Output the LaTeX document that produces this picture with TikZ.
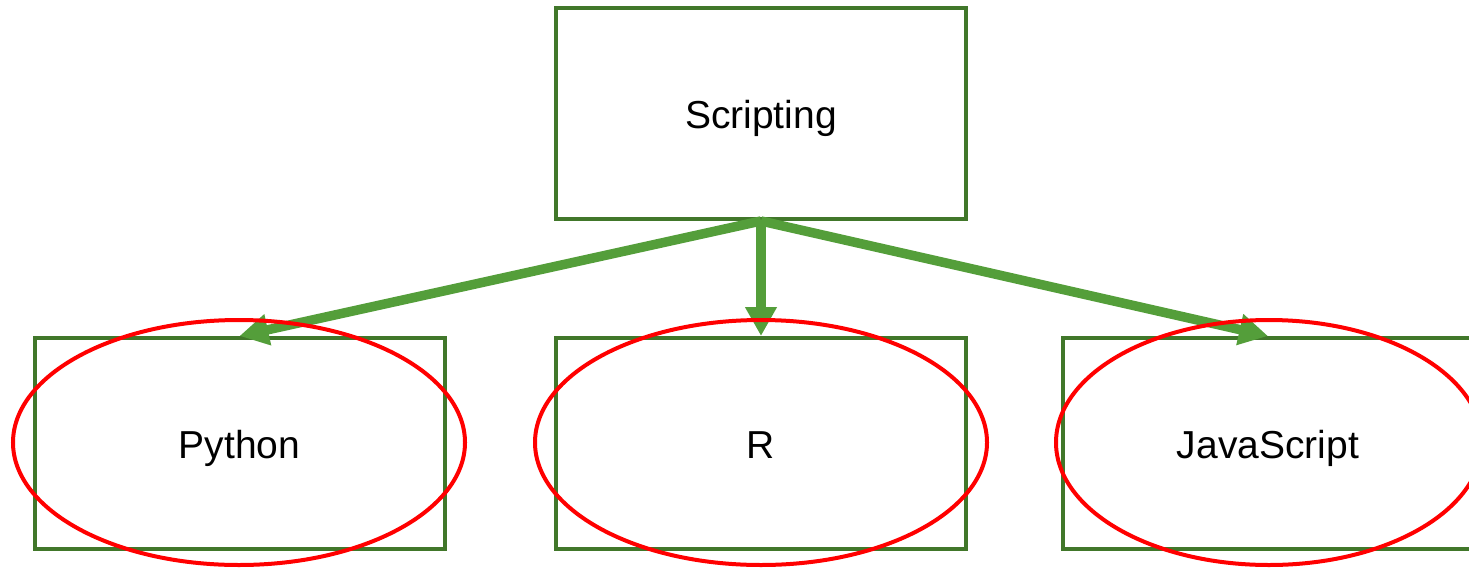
\documentclass[tikz,border=0pt]{standalone}
\usepackage{fontspec}
\setmainfont{Liberation Sans}
\usetikzlibrary{arrows.meta,shapes.geometric}
\definecolor{boxgreen}{RGB}{65,119,42}
\definecolor{arrowgreen}{RGB}{84,158,58}
\definecolor{ovalred}{RGB}{255,0,0}
\tikzset{
  langbox/.style={draw=boxgreen, line width=4pt, rectangle, minimum width=410pt, minimum height=211pt, inner sep=0pt, text height=37pt, text depth=8pt, font=\fontsize{39}{46}\selectfont},
  link/.style={draw=arrowgreen, line width=9.5pt, -{Triangle[length=29pt,width=30pt]}},
  oval/.style={draw=ovalred, line width=4pt, ellipse, inner sep=0pt}
}
\begin{document}
\begin{tikzpicture}[x=1pt,y=-1pt]
\useasboundingbox (0,0) rectangle (1469,568);
\clip (0,0) rectangle (1469,568);
\node[langbox] (top) at (761,113.5) {Scripting};
\node[langbox] (py) at (239.5,443.5) {Python};
\node[langbox] (r) at (761,443.5) {R};
\node[langbox] (js) at (1268,443.5) {JavaScript};
\draw[link] (top.south) -- (py.north);
\draw[link] (top.south) -- (r.north);
\draw[link] (top.south) -- (js.north);
\node[oval, minimum width=452pt, minimum height=245pt] (opy) at (239,442.5) {};
\node[oval, minimum width=452pt, minimum height=245pt] (or) at (761,442.5) {};
\node[oval, minimum width=426pt, minimum height=245pt] (ojs) at (1269,442.5) {};
\end{tikzpicture}
\end{document}
